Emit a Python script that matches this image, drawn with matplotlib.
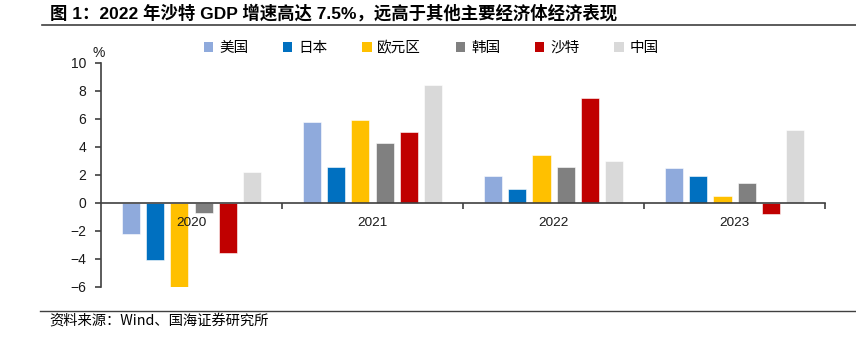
import numpy as np
import matplotlib.pyplot as plt
from matplotlib.patches import Patch
from matplotlib.lines import Line2D

plt.rcParams['font.family'] = ['Liberation Sans', 'Noto Sans CJK SC']

# -- dados
anos = ['2020', '2021', '2022', '2023']
paises = ['美国', '日本', '欧元区', '韩国', '沙特', '中国']
eua = [-2.2, 5.8, 1.9, 2.5]
japao = [-4.1, 2.6, 1.0, 1.9]
euro = [-6.1, 5.9, 3.4, 0.5]
coreia = [-0.7, 4.3, 2.6, 1.4]
arabia = [-3.6, 5.1, 7.5, -0.8]
china = [2.2, 8.4, 3.0, 5.2]
series = [eua, japao, euro, coreia, arabia, china]
cores = ['#8FAADC', '#0070C0', '#FFC000', '#808080', '#C00000', '#D9D9D9']

fig = plt.figure(figsize=(8.56, 3.40), dpi=100)
ax = fig.add_axes([0.118, 0.156, 0.846, 0.659])

x = np.arange(len(anos))
passo = 0.134
largura = 0.1
for i, (vals, cor) in enumerate(zip(series, cores)):
    ax.bar(x + (i - 2.5) * passo, vals, largura, color=cor,
           edgecolor='white', linewidth=0.4, label=paises[i], zorder=1)

ax.set_xlim(-0.5, 3.5)
ax.set_ylim(-6, 10)
ax.set_yticks(range(-6, 11, 2))
ax.set_axisbelow(False)

# -- eixo x na linha do zero
cor_eixo = '#404040'
ax.spines['bottom'].set_position(('data', 0))
for s in ['top', 'right']:
    ax.spines[s].set_visible(False)
ax.spines['bottom'].set_color(cor_eixo)
ax.spines['left'].set_color(cor_eixo)
ax.spines['bottom'].set_linewidth(1.2)
ax.spines['left'].set_linewidth(1.2)
ax.spines['bottom'].set_zorder(3)

ax.set_xticks([0.5, 1.5, 2.5, 3.5])
ax.set_xticklabels([])
ax.set_xticks(x, minor=True)
ax.set_xticklabels(anos, minor=True)
ax.tick_params(axis='x', which='major', length=4.3, width=1.2, color=cor_eixo, direction='out')
ax.tick_params(axis='x', which='minor', length=0, pad=10, labelsize=9.7, labelcolor='#1a1a1a')
ax.tick_params(axis='y', length=4.5, width=1.2, color=cor_eixo, labelsize=10, pad=6,
               labelcolor='#1a1a1a')

fig.text(0.108, 0.823, '%', fontsize=10, ha='left', va='bottom', color='#1a1a1a')

# -- legenda
handles = [Patch(facecolor=c, edgecolor='none') for c in cores]
fig.legend(handles, paises, loc='center', bbox_to_anchor=(0.504, 0.859), ncol=6,
           frameon=False, handlelength=0.62, handleheight=0.62, handletextpad=0.4,
           columnspacing=2.4, prop={'family': 'Noto Sans CJK SC', 'size': 10.5})

# -- título e fonte
fig.text(0.058, 0.962, '图 1：2022 年沙特 GDP 增速高达 7.5%，远高于其他主要经济体经济表现',
         fontsize=12.5, fontweight='bold', ha='left', va='center')
fig.add_artist(Line2D([0.049, 1.0], [0.926, 0.926], color='#404040', linewidth=1.2))
fig.add_artist(Line2D([0.047, 1.0], [0.086, 0.086], color='#404040', linewidth=1.0))
fig.text(0.058, 0.053, '资料来源：Wind、国海证券研究所', fontsize=10.3, ha='left', va='center',
         family=['Noto Sans CJK SC', 'Liberation Sans'])

fig.savefig('out.png', dpi=100)
